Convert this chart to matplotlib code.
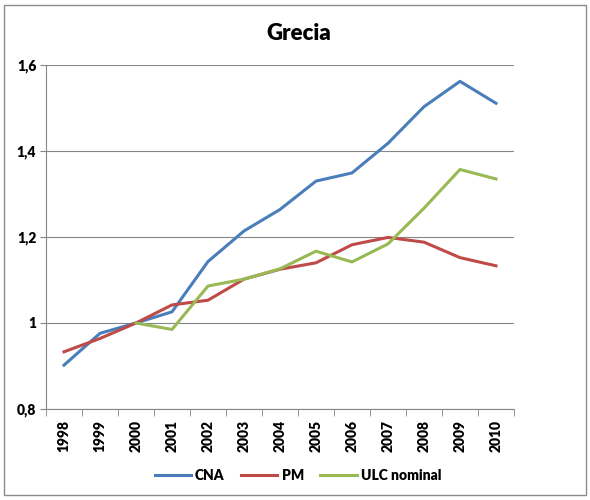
import numpy as np
import matplotlib
matplotlib.use("Agg")
from matplotlib import pyplot as plt
from matplotlib.patches import Rectangle

# Index values per year (2000 = 1)
years = [str(y) for y in range(1998, 2011)]
cna = [0.902, 0.976, 1.0, 1.026, 1.143, 1.214, 1.264, 1.330, 1.349, 1.418, 1.503, 1.562, 1.511]
pm = [0.933, 0.964, 1.0, 1.042, 1.053, 1.102, 1.125, 1.140, 1.182, 1.199, 1.188, 1.152, 1.133]
ulc = [np.nan, np.nan, 1.0, 0.985, 1.086, 1.102, 1.126, 1.167, 1.142, 1.184, 1.267, 1.357, 1.335]
y_ticks = [0.8, 1.0, 1.2, 1.4, 1.6]
y_labels = ["0,8", "1", "1,2", "1,4", "1,6"]

plt.rcParams['font.family'] = ['Lato', 'DejaVu Sans']

fig = plt.figure(figsize=(5.9, 5.0), dpi=100)
ax = fig.add_axes([46/590, 1 - 409/500, 468/590, 344/500])

# grey frame around the whole chart
fig.patches.append(Rectangle((4/590, 5/500), 582/590, 490/500, transform=fig.transFigure,
                             fill=False, edgecolor='#8c8c8c', linewidth=1))

x = np.arange(len(years))
ax.plot(x, cna, color='#4A7EBB', linewidth=2.2, label='CNA')
ax.plot(x, pm, color='#BE4B48', linewidth=2.2, label='PM')
ax.plot(x, ulc, color='#98B954', linewidth=2.2, label='ULC nominal')

ax.set_xlim(-0.5, len(years) - 0.5)
ax.set_ylim(0.8, 1.6)
ax.set_yticks(y_ticks)
ax.set_yticklabels(y_labels, fontweight='heavy', fontsize=10)
ax.yaxis.grid(True, color='#868686', linewidth=0.8)
ax.set_axisbelow(True)

ax.set_xticks(x)
ax.set_xticklabels(years, rotation=90, fontweight='heavy', fontsize=10)
ax.set_xticks(np.arange(-0.5, len(years)), minor=True)
ax.tick_params(axis='x', which='major', length=0, pad=8)
ax.tick_params(axis='x', which='minor', length=5, color='#868686', direction='out')
ax.tick_params(axis='y', length=4, color='#868686', direction='out', pad=3)

for side in ['top', 'right']:
    ax.spines[side].set_visible(False)
for side in ['left', 'bottom']:
    ax.spines[side].set_color('#868686')

fig.text(299/590, 1 - 33/500, 'Grecia', ha='center', va='center', fontsize=16, fontweight='heavy')

fig.legend(loc='center', bbox_to_anchor=(298/590, 1 - 475/500), ncol=3, frameon=False,
           prop={'weight': 'heavy', 'size': 10}, handlelength=2.6, columnspacing=1.2, handletextpad=0.3)

fig.savefig('out.png', dpi=100)
